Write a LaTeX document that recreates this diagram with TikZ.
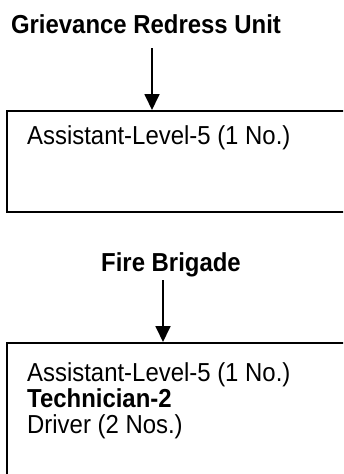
\documentclass[tikz,border=0pt]{standalone}
\usepackage{fontspec}
\setmainfont[FakeStretch=0.92]{Liberation Sans}
\usetikzlibrary{positioning,arrows.meta}
\def\Wpic{343}
\def\Hpic{474}
\def\Fsize{\fontsize{26}{26}\selectfont}

\begin{document}
\begin{tikzpicture}[x=1pt,y=1pt,
    title/.style={font=\Fsize\bfseries,inner sep=0pt,anchor=base},
    post/.style={draw,line width=2pt,minimum width=360pt,anchor=north west,inner sep=0pt},
    entry/.style={font=\Fsize,anchor=base west,align=left,inner sep=0pt},
    down/.style={line width=1.8pt,-{Triangle[length=16pt,width=15pt]}}]
    \path[use as bounding box] (0,0) rectangle (\Wpic,-\Hpic);
    \clip (0,0) rectangle (\Wpic,-\Hpic);
    % Grievance Redress Unit
    \node[title] (gru) at (146,-33) {Grievance Redress Unit};
    \node[post,minimum height=101pt] (gruBox) at (6,-110) {};
    \node[entry] (gruText) at (27,-144) {Assistant-Level-5 (1 No.)};
    \coordinate (gruTop) at (152,-48);
    \draw[down] (gruTop) -- (gruTop |- gruBox.north);
    % Fire Brigade
    \node[title] (fb) at (171,-271) {Fire Brigade};
    \node[post,minimum height=150pt] (fbBox) at (6,-342) {};
    \node[entry] (fbText) at (27,-433) {Assistant-Level-5 (1 No.)\\\textbf{Technician-2}\\Driver (2 Nos.)};
    \coordinate (fbTop) at (163,-280);
    \draw[down] (fbTop) -- (fbTop |- fbBox.north);
\end{tikzpicture}
\end{document}
